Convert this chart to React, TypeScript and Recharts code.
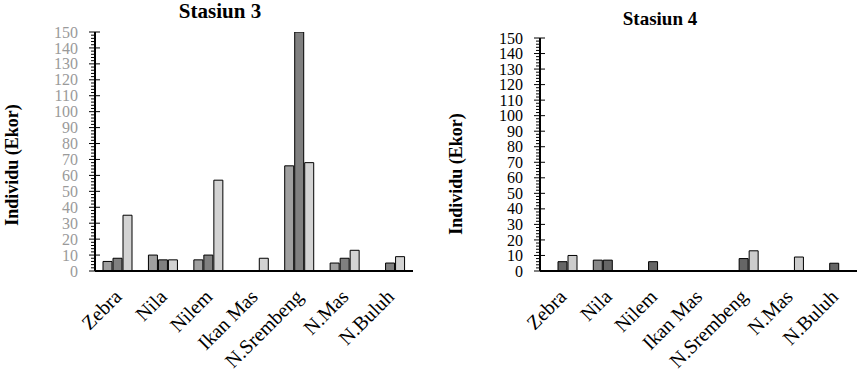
import React from 'react';
import { BarChart, Bar, XAxis, YAxis } from 'recharts';

const categories = ['Zebra', 'Nila', 'Nilem', 'Ikan Mas', 'N.Srembeng', 'N.Mas', 'N.Buluh'];
// Stasiun 3
const s3A = [6, 10, 7, 0, 66, 5, 0];
const s3B = [8, 7, 10, 0, 150, 8, 5];
const s3C = [35, 7, 57, 8, 68, 13, 9];
// Stasiun 4
const s4A = [0, 7, 0, 0, 0, 0, 0];
const s4B = [6, 7, 6, 0, 8, 0, 5];
const s4C = [10, 0, 0, 0, 13, 9, 0];

const majorTicks = [0, 10, 20, 30, 40, 50, 60, 70, 80, 90, 100, 110, 120, 130, 140, 150];
const minorStep = 2;
const yTicks: number[] = [];
majorTicks.forEach((t, i) => {
  if (i < majorTicks.length - 1) {
    for (let v = t; v < majorTicks[i + 1]; v += minorStep) yTicks.push(v);
  } else yTicks.push(t);
});

const FONT = '"Liberation Serif", "Times New Roman", serif';

const build = (a: number[], b: number[], c: number[]) =>
  categories.map((name, i) => ({ name, a: a[i], b: b[i], c: c[i] }));

const data3 = build(s3A, s3B, s3C);
const data4 = build(s4A, s4B, s4C);

const makeYTick = (color: string) => (props: any) => {
  const { x, y, payload } = props;
  const v = payload.value;
  const major = v % 10 === 0;
  return (
    <g>
      <line x1={major ? x - 6 : x - 4} x2={major ? x + 5 : x} y1={y} y2={y} stroke="#000" strokeWidth={1} />
      {major && (
        <text x={x - 17} y={y} dy="0.35em" textAnchor="end" fontFamily={FONT} fontSize={16} fill={color}>
          {v}
        </text>
      )}
    </g>
  );
};

const XTick = (props: any) => {
  const { x, y, payload } = props;
  const px = x + 5;
  const py = y + 27;
  return (
    <text x={px} y={py} transform={`rotate(-45, ${px}, ${py})`} textAnchor="end" fontFamily={FONT} fontSize={20} fill="#000">
      {payload.value}
    </text>
  );
};

type StationProps = {
  data: any[];
  width: number;
  top: number;
  right: number;
  yWidth: number;
  colors: string[];
  tickColor: string;
};

const Station = ({ data, width, top, right, yWidth, colors, tickColor }: StationProps) => (
  <BarChart
    width={width}
    height={379}
    data={data}
    margin={{ top, right, bottom: 0, left: 0 }}
    barSize={9}
    barGap={1}
  >
    <XAxis
      dataKey="name"
      height={108}
      interval={0}
      tickLine={false}
      tickSize={0}
      tickMargin={0}
      tick={<XTick />}
      axisLine={{ stroke: '#000', strokeWidth: 2 }}
    />
    <YAxis
      type="number"
      domain={[0, 150]}
      ticks={yTicks}
      interval={0}
      width={yWidth}
      tickLine={false}
      tickSize={0}
      tickMargin={0}
      allowDataOverflow
      tick={makeYTick(tickColor)}
      axisLine={{ stroke: '#000', strokeWidth: 2 }}
    />
    <Bar dataKey="a" fill={colors[0]} stroke="#000" strokeWidth={1} isAnimationActive={false} />
    <Bar dataKey="b" fill={colors[1]} stroke="#000" strokeWidth={1} isAnimationActive={false} />
    <Bar dataKey="c" fill={colors[2]} stroke="#000" strokeWidth={1} isAnimationActive={false} />
  </BarChart>
);

export default function App() {
  return (
    <div style={{ position: 'absolute', left: 0, top: 0, width: 862, height: 379, background: '#fff' }}>
      <div style={{ position: 'absolute', left: 0, top: 0 }}>
        <Station data={data3} width={430} top={32} right={17} yWidth={95} colors={['#a0a0a0', '#808080', '#d3d3d3']} tickColor="#9a9a9a" />
      </div>
      <div style={{ position: 'absolute', left: 430, top: 0 }}>
        <Station data={data4} width={432} top={38} right={5} yWidth={110} colors={['#888888', '#666666', '#cccccc']} tickColor="#000" />
      </div>
      <svg width={862} height={379} style={{ position: 'absolute', left: 0, top: 0, pointerEvents: 'none' }}>
        <text x={220} y={18} textAnchor="middle" fontFamily={FONT} fontWeight="bold" fontSize={21} fill="#000">Stasiun 3</text>
        <text x={660} y={25} textAnchor="middle" fontFamily={FONT} fontWeight="bold" fontSize={19} fill="#000">Stasiun 4</text>
        <text x={12} y={165} transform="rotate(-90, 12, 165)" textAnchor="middle" dy="0.35em" fontFamily={FONT} fontWeight="bold" fontSize={18} fill="#000">Individu (Ekor)</text>
        <text x={456} y={174} transform="rotate(-90, 456, 174)" textAnchor="middle" dy="0.35em" fontFamily={FONT} fontWeight="bold" fontSize={18} fill="#000">Individu (Ekor)</text>
      </svg>
    </div>
  );
}
